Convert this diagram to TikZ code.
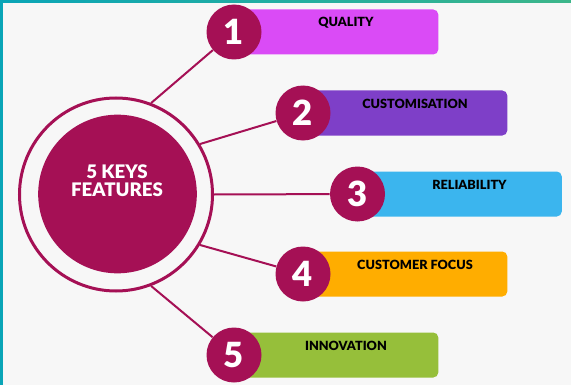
\documentclass[tikz,border=0pt]{standalone}
\usepackage{fontspec}
\setmainfont{Lato}
\newfontfamily\heavyfont{Lato Black}
\usepackage{tikz}
\usepackage{xcolor}

\definecolor{keyred}{RGB}{165,16,85}
\definecolor{pagebg}{RGB}{247,247,247}
\definecolor{barteal}{RGB}{10,165,183}
\definecolor{bargreen}{RGB}{60,182,138}
\definecolor{featA}{RGB}{218,75,246}
\definecolor{featB}{RGB}{126,63,200}
\definecolor{featC}{RGB}{59,181,238}
\definecolor{featD}{RGB}{255,173,0}
\definecolor{featE}{RGB}{150,191,58}

\tikzset{
  numdot/.style={circle, fill=keyred, minimum size=41.25pt, inner sep=0pt, text=white, font=\fontsize{26}{26}\selectfont\heavyfont},
  featbox/.style={rounded corners=3.75pt, minimum width=153pt, minimum height=33.75pt, anchor=west, inner sep=0pt},
  feattext/.style={inner sep=0.75pt, text=black, font=\fontsize{9.5}{9.5}\selectfont\heavyfont},
  spoke/.style={draw=keyred, line width=1.5pt},
}

\begin{document}
\begin{tikzpicture}[x=0.75pt,y=0.75pt,yscale=-1,xscale=1]
\useasboundingbox (0,0) rectangle (571,385);

%Background and frame
\fill[pagebg] (0,0) rectangle (571,385);
\shade[left color=barteal, right color=bargreen] (0,0) rectangle (571,3);
\fill[barteal] (0,0) rectangle (3,385);

%Centre ring and disc
\node[circle, draw=keyred, line width=2.25pt, minimum size=144.75pt, inner sep=0pt] (ring) at (116,194.5) {};
\node[circle, fill=keyred, minimum size=119pt, inner sep=0pt] (core) at (117.5,194) {};
\node[align=center, text=white, inner sep=0.75pt, font=\fontsize{14}{13.5}\selectfont\heavyfont] (title) at (117,181) {5 KEYS\\FEATURES};

%Features
\foreach \i/\x/\y/\c/\t/\a in {1/234/32/featA/QUALITY/69, 2/303/113/featB/CUSTOMISATION/31, 3/357.5/194/featC/RELIABILITY/0, 4/303/274/featD/CUSTOMER FOCUS/-31, 5/234/355/featE/INNOVATION/-69}{
  \node[featbox, fill=\c] (box\i) at (\x,\y) {};
  \node[numdot] (num\i) at (\x,\y) {\i};
  \node[feattext] (txt\i) at (\x+112,\y-9.5) {\t};
  \draw[spoke] (ring.\a) -- (num\i);
}

\end{tikzpicture}
\end{document}
